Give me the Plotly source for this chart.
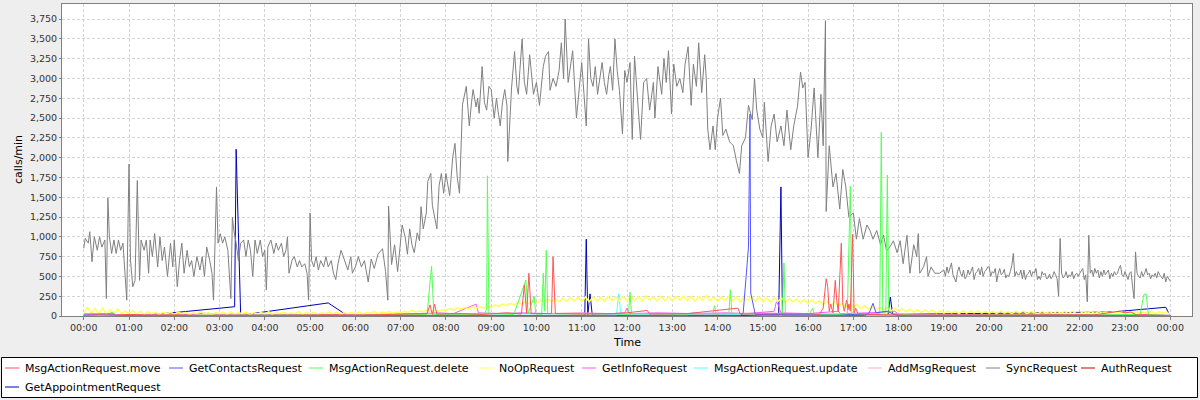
import numpy as np
import pandas as pd
import plotly.graph_objects as go

# ---------------- data (minutes since midnight, calls/min) ----------------
sync_t_day = [
    0, 2, 6, 8, 11, 14, 18, 21, 24, 28,
    30, 32, 34, 37, 40, 43, 46, 49, 52, 54,
    57, 60, 62, 65, 68, 71, 74, 76, 80, 83,
    86, 88, 91, 94, 98, 101, 104, 107, 111, 115,
    118, 120, 124, 127, 130, 133, 137, 140, 143, 146,
    150, 154, 157, 160, 163, 167, 170, 172, 174, 176,
    178, 181, 184, 187, 191, 193, 195, 197, 199, 202,
    205, 208, 212, 215, 218, 221, 224, 227, 230, 234,
    237, 240, 242, 244, 248, 252, 255, 258, 262, 265,
    268, 270, 272, 276, 279, 283, 286, 289, 293, 296,
    298, 300, 302, 305, 308, 311, 314, 318, 321, 324,
    328, 331, 334, 337, 341, 344, 347, 350, 354, 356,
    360, 364, 368, 372, 377, 381, 385, 390, 396, 400,
    403, 404, 408, 412, 416, 420, 422, 426, 429, 432,
    435, 438, 442, 445, 447, 450, 454, 456, 460, 462,
    465, 468, 471, 474, 477, 480, 485, 489, 492, 495,
    498, 500, 502, 507, 511, 514, 516, 520, 522, 524,
    528, 531, 534, 537, 540, 544, 547, 549, 552, 555,
    558, 561, 562, 567, 571, 574, 576, 578, 581, 584,
    587, 591, 594, 596, 600, 604, 609, 612, 616, 618,
    622, 626, 630, 633, 636, 638, 642, 645, 648, 653,
    657, 660, 663, 666, 669, 672, 675, 678, 681, 684,
    687, 690, 693, 696, 698, 701, 704, 707, 710, 714,
    717, 720, 724, 727, 730, 735, 738, 742, 746, 750,
    755, 757, 761, 766, 769, 772, 775, 779, 782, 786,
    790, 794, 797, 801, 805, 808, 812, 815, 819, 823,
    825, 827, 830, 834, 837, 840, 844, 847, 851, 856,
    861, 865, 869, 872, 877, 881, 886, 889, 892, 896,
    900, 902, 907, 911, 915, 919, 924, 928, 932, 937,
    941, 946, 948, 950, 953, 956, 960, 964, 968, 973,
    977, 980, 983, 984, 988, 993, 997, 1002, 1006, 1010,
    1014, 1020, 1024, 1028, 1033, 1038, 1042, 1046, 1051, 1056,
    1060, 1064, 1069, 1073, 1078, 1082, 1086, 1091, 1095, 1100,
    1104, 1106, 1108, 1113, 1117, 1119, 1123, 1128, 1134,
]
sync_v_day = [
    855, 980, 920, 1065, 685, 1000, 830, 1000, 870, 960,
    220, 1490, 1000, 790, 960, 790, 960, 830, 920, 620,
    200, 1920, 700, 370, 450, 1710, 450, 960, 830, 960,
    540, 960, 750, 1040, 620, 1000, 700, 870, 500, 920,
    620, 960, 370, 700, 920, 540, 830, 620, 700, 500,
    750, 580, 750, 500, 870, 700, 540, 200, 790, 1630,
    920, 1040, 920, 1000, 830, 540, 220, 1250, 1080, 920,
    700, 920, 960, 750, 960, 830, 500, 960, 790, 960,
    750, 830, 330, 870, 960, 790, 920, 830, 920, 750,
    830, 1000, 540, 700, 750, 620, 700, 620, 660, 540,
    200, 1300, 700, 620, 750, 580, 700, 620, 750, 620,
    700, 540, 460, 660, 830, 750, 660, 580, 750, 540,
    620, 750, 620, 700, 430, 720, 600, 780, 850, 560,
    200, 1390, 650, 900, 560, 950, 1150, 1000, 780, 1100,
    900, 800, 1050, 950, 1380, 1100, 1300, 1700, 1800, 1400,
    1250, 1100, 1650, 1800, 1550, 1800, 1520, 2000, 2180, 1750,
    1550, 2100, 2670, 2900, 2400, 2700, 2860, 2640, 2750, 2560,
    3150, 2700, 2600, 2900, 2860, 2500, 2750, 2600, 2400, 2700,
    2860, 2650, 1950, 2880, 3340, 2900, 2800, 3100, 3500, 2950,
    2800, 3300, 2950, 2800, 2950, 2660, 3150, 3280, 3340, 2850,
    3000, 2900, 3100, 3450, 3000, 3750, 2950, 3150, 3350, 2500,
    2900, 3200, 2800, 2400, 3500, 3000, 2900, 3150, 2800, 3000,
    3200, 2950, 2800, 3050, 3150, 2850, 3500, 3100, 2850, 2300,
    3100, 2950, 3200, 2230, 3280, 2600, 2230, 2950, 3000, 2600,
    2950, 2500, 3150, 2800, 3250, 2950, 3350, 2550, 3180, 2900,
    3000, 2820, 3180, 3400, 2660, 3180, 2900, 3450, 2820, 3300,
    3000, 2360, 2100, 2400, 2100, 2500, 2750, 2280, 2360, 2200,
    2150, 1960, 1800, 2150, 2250, 2660, 2480, 3000, 2600, 2360,
    2250, 2700, 1950, 2400, 2550, 2200, 2400, 2150, 2600, 2100,
    2400, 2650, 2830, 3080, 2880, 2950, 2000, 2360, 2880, 2000,
    2800, 2150, 3730, 1320, 2150, 1630, 1800, 1350, 1850, 1630,
    1250, 1300, 970, 1230, 970, 1150, 1080, 970, 1080, 900,
    1020, 820, 880, 950, 800, 950, 660, 1020, 540, 900,
    750, 1040, 540, 620, 750, 500, 620, 540, 540,
]
# evening samples, every 2 minutes from 19:00 to 24:00
sync_t_eve = list(range(1140, 1441, 2))
sync_v_eve = [
    580, 500, 620, 540, 600, 670, 520, 480, 430, 560,
    620, 540, 500, 580, 470, 500, 580, 520, 560, 620,
    460, 540, 560, 600, 520, 620, 500, 560, 580, 620,
    620, 500, 560, 540, 600, 430, 540, 600, 520, 540,
    590, 480, 520, 500, 560, 640, 790, 500, 560, 520,
    520, 580, 470, 580, 460, 520, 540, 580, 500, 560,
    540, 600, 460, 500, 460, 560, 520, 540, 470, 480,
    530, 470, 500, 560, 520, 470, 250, 980, 540, 480,
    500, 560, 480, 520, 500, 560, 470, 520, 540, 500,
    540, 580, 600, 460, 520, 180, 1020, 540, 580, 500,
    600, 540, 580, 480, 560, 500, 580, 520, 560, 580,
    470, 540, 500, 560, 520, 540, 600, 640, 520, 500,
    560, 500, 460, 540, 560, 380, 220, 810, 540, 500,
    480, 560, 500, 540, 600, 520, 540, 470, 520, 500,
    540, 480, 560, 520, 500, 470, 540, 430, 500, 460,
    440,
]
sync_t = sync_t_day + sync_t_eve
sync_v = sync_v_day + sync_v_eve

noop_t = list(range(0, 1441, 5))
noop_v = [
    40, 110, 30, 95, 25, 100, 20, 80, 30, 90, 25, 60,
    30, 70, 25, 60, 20, 55, 30, 50, 20, 45, 25, 50,
    20, 50, 25, 45, 20, 40, 30, 55, 25, 40, 20, 45,
    30, 50, 20, 55, 25, 45, 30, 50, 20, 40, 25, 45,
    25, 55, 20, 45, 30, 50, 25, 40, 30, 55, 20, 45,
    25, 45, 20, 40, 30, 50, 25, 45, 20, 40, 30, 45,
    30, 50, 25, 45, 35, 55, 30, 50, 40, 55, 35, 50,
    40, 60, 45, 70, 50, 65, 55, 75, 50, 70, 60, 80,
    70, 95, 75, 100, 85, 110, 90, 120, 95, 115, 100, 125,
    110, 140, 120, 150, 130, 160, 140, 170, 150, 180, 160, 185,
    160, 205, 170, 215, 175, 220, 180, 225, 185, 230, 190, 235,
    185, 240, 180, 245, 190, 235, 185, 250, 195, 240, 190, 245,
    190, 250, 195, 245, 185, 255, 200, 240, 190, 250, 195, 245,
    190, 245, 200, 255, 195, 250, 185, 245, 200, 255, 190, 240,
    185, 240, 195, 250, 190, 245, 180, 235, 195, 245, 185, 240,
    180, 235, 175, 230, 185, 225, 170, 220, 180, 215, 165, 210,
    160, 205, 155, 195, 145, 185, 135, 175, 125, 165, 115, 155,
    105, 145, 95, 130, 85, 120, 80, 110, 75, 105, 65, 95,
    60, 90, 55, 85, 50, 80, 45, 75, 50, 70, 40, 65,
    35, 65, 40, 60, 30, 65, 35, 60, 40, 65, 35, 60,
    35, 60, 30, 65, 35, 55, 30, 60, 40, 65, 30, 55,
    40, 30, 60, 35, 55, 30, 60, 35, 55, 30, 60, 35,
    30, 55, 35, 60, 30, 55, 35, 50, 30, 60, 35, 55,
    30, 55, 35, 60, 30, 50, 35, 60, 30, 55, 35, 50,
    20,
]

move_t = [0, 20, 40, 60, 90, 120, 150, 180, 210, 240, 270, 300, 330, 360, 400, 440,
          455, 459, 462, 465, 468, 500, 530, 560, 580, 584, 587, 590, 593, 620, 622, 625,
          660, 700, 720, 747, 750, 800, 867, 870, 920, 960, 975, 980, 984, 986, 988, 990,
          993, 996, 998, 1000, 1004, 1006, 1008, 1011, 1013, 1014, 1016, 1019, 1021, 1023,
          1026, 1060, 1100, 1160, 1220, 1280, 1340, 1365, 1372, 1380, 1388, 1395, 1440]
move_v = [5, 15, 8, 20, 10, 15, 8, 12, 10, 8, 12, 10, 15, 10, 15, 20,
          30, 140, 20, 150, 25, 30, 20, 40, 25, 390, 30, 540, 30, 30, 750, 30,
          25, 30, 40, 70, 25, 30, 100, 25, 30, 30, 20, 100, 470, 370, 60, 150,
          40, 450, 200, 50, 920, 150, 60, 200, 80, 150, 60, 1030, 40, 100,
          30, 15, 10, 10, 12, 10, 15, 50, 60, 40, 50, 15, 5]

contacts_t = [0, 40, 42, 60, 300, 600, 870, 874, 881, 883, 884, 890, 1035, 1041, 1046,
              1050, 1065, 1074, 1080, 1440]
contacts_v = [25, 25, 5, 3, 3, 3, 3, 40, 870, 2550, 290, 20, 5, 40, 160,
              40, 60, 20, 5, 3]

delete_t = [0, 30, 38, 42, 60, 100, 150, 200, 250, 300, 350, 400, 455, 461, 464, 530,
            534, 535, 537, 570, 586, 589, 597, 599, 607, 609, 611, 613, 615, 660, 700, 722,
            724, 726, 780, 834, 836, 838, 855, 857, 859, 920, 926, 928, 930, 962, 966, 968,
            1000, 1012, 1016, 1018, 1055, 1057, 1059, 1063, 1065, 1067, 1100, 1160, 1220,
            1280, 1340, 1400, 1405, 1408, 1411, 1440]
delete_v = [5, 10, 50, 10, 8, 10, 12, 8, 10, 12, 8, 12, 20, 630, 20, 20,
            80, 1770, 30, 20, 455, 30, 250, 30, 20, 540, 60, 830, 30, 25, 30, 20,
            300, 30, 25, 30, 130, 25, 30, 330, 30, 30, 20, 670, 30, 30, 100, 20,
            20, 30, 1640, 30, 30, 2320, 40, 40, 1780, 40, 10, 10, 15,
            10, 12, 20, 270, 280, 20, 5]

info_t = [0, 30, 60, 90, 120, 140, 160, 180, 210, 240, 270, 300, 330, 360, 400, 440,
          470, 490, 520, 523, 550, 580, 620, 660, 700, 717, 720, 723, 760, 800, 850, 880,
          915, 918, 921, 924, 960, 1000, 1003, 1040, 1075, 1080, 1120, 1180, 1240, 1300,
          1360, 1400, 1440]
info_v = [10, 25, 15, 20, 30, 15, 35, 20, 25, 15, 20, 15, 20, 15, 20, 30,
          40, 30, 150, 40, 30, 40, 30, 35, 30, 40, 100, 30, 40, 30, 40, 30,
          60, 180, 130, 40, 30, 60, 30, 40, 60, 20, 15, 20, 15, 20,
          15, 20, 10]

update_t = [0, 120, 240, 360, 480, 600, 706, 709, 712, 800, 806, 900, 1000, 1100, 1250, 1440]
update_v = [5, 8, 5, 8, 10, 12, 10, 280, 15, 10, 40, 12, 10, 8, 5, 5]

addmsg_t = [0, 120, 240, 360, 480, 540, 600, 660, 720, 780, 840, 900, 960, 1020, 1080, 1200, 1320, 1440]
addmsg_v = [10, 15, 10, 15, 25, 35, 30, 40, 25, 35, 30, 40, 25, 30, 15, 10, 10, 5]

auth_t = [0, 480, 720, 1000, 1440]
auth_v = [2, 5, 5, 8, 2]

appt_t = [0, 90, 200, 202, 208, 216, 324, 347, 360, 664, 666, 668, 671, 674, 921, 924, 926,
          1066, 1069, 1072, 1362, 1434, 1440]
appt_v = [3, 15, 117, 2105, 3, 20, 165, 20, 3, 5, 970, 10, 280, 10, 10, 1630, 10,
          20, 240, 20, 50, 110, 0]

series_names = ["MsgActionRequest.move", "GetContactsRequest", "MsgActionRequest.delete",
                "NoOpRequest", "GetInfoRequest", "MsgActionRequest.update", "AddMsgRequest",
                "SyncRequest", "AuthRequest", "GetAppointmentRequest"]
series_colors = ["#FF5555", "#5555FF", "#55FF55", "#FFFF55", "#FF55FF", "#55FFFF",
                 "#FFAFAF", "#808080", "#C00000", "#0000C0"]
series_data = [(move_t, move_v), (contacts_t, contacts_v), (delete_t, delete_v),
               (noop_t, noop_v), (info_t, info_v), (update_t, update_v),
               (addmsg_t, addmsg_v), (sync_t, sync_v), (auth_t, auth_v), (appt_t, appt_v)]

y_ticks = list(range(0, 3751, 250))

# ---------------- figure ----------------
W, H = 1200, 400
L, R, T, B = 62, 8, 4, 84
PW, PH = W - L - R, H - T - B
base = pd.Timestamp("2011-01-01")


def to_time(mins):
    return base + pd.to_timedelta(np.asarray(mins, dtype=float), unit="m")


def px_x(px):
    return (px - L) / PW


def px_y(py):
    return (H - B - py) / PH


fig = go.Figure()
# JFreeChart renders series in reverse order: first series on top
for name, color, (t, v) in reversed(list(zip(series_names, series_colors, series_data))):
    lw = 1.5 if name == "NoOpRequest" else 1
    fig.add_trace(go.Scatter(x=to_time(t), y=v, mode="lines", name=name,
                             line=dict(color=color, width=lw), showlegend=False,
                             hoverinfo="skip"))

tick_font = dict(family="DejaVu Sans", size=9.5, color="#333333")
fig.update_layout(
    width=W, height=H,
    margin=dict(l=L, r=R, t=T, b=B, pad=0),
    paper_bgcolor="#EEEEEE", plot_bgcolor="#FFFFFF",
    showlegend=False,
    xaxis=dict(
        type="date",
        range=[base - pd.Timedelta(minutes=28.8), base + pd.Timedelta(minutes=1468.8)],
        tickformat="%H:%M", dtick=3600000, tick0=base,
        showgrid=True, gridcolor="#D4D4D4", griddash="3px,2px", gridwidth=1,
        showline=True, linecolor="#808080", linewidth=1, mirror=True,
        ticks="outside", ticklen=3, tickcolor="#808080",
        tickfont=tick_font, zeroline=False,
    ),
    yaxis=dict(
        range=[0, 3940], tickvals=y_ticks, tickformat=",d",
        showgrid=True, gridcolor="#D4D4D4", griddash="3px,2px", gridwidth=1,
        showline=True, linecolor="#808080", linewidth=1, mirror=True,
        ticks="outside", ticklen=2, tickcolor="#808080",
        tickfont=tick_font, zeroline=False,
    ),
)

annotations = [
    dict(text="calls/min", x=px_x(18), y=px_y(160), xref="paper", yref="paper",
         textangle=-90, showarrow=False, font=dict(family="DejaVu Sans", size=11, color="#000"),
         xanchor="center", yanchor="middle"),
    dict(text="Time", x=px_x(627), y=px_y(342), xref="paper", yref="paper",
         showarrow=False, font=dict(family="DejaVu Sans", size=11, color="#000"),
         xanchor="center", yanchor="middle"),
]
shapes = [
    dict(type="rect", xref="paper", yref="paper", x0=px_x(1.5), x1=px_x(1197.5),
         y0=px_y(357.5), y1=px_y(397.5), line=dict(color="#000000", width=1),
         fillcolor="#FFFFFF", layer="below"),
]

# legend entries: (line start px, row)
legend_x = [5, 169, 309, 479, 582, 694, 868, 986, 1081, 5]
legend_row = [0, 0, 0, 0, 0, 0, 0, 0, 0, 1]
row_y = [368, 387]
for name, color, lx, row in zip(series_names, series_colors, legend_x, legend_row):
    yy = px_y(row_y[row])
    shapes.append(dict(type="line", xref="paper", yref="paper", x0=px_x(lx), x1=px_x(lx + 14),
                       y0=yy, y1=yy, line=dict(color=color, width=1)))
    annotations.append(dict(text=name, x=px_x(lx + 18), y=yy, xref="paper", yref="paper",
                            showarrow=False, xanchor="left", yanchor="middle",
                            font=dict(family="DejaVu Sans", size=11, color="#000")))

fig.update_layout(annotations=annotations, shapes=shapes)
fig.write_html("out.html", config={"displayModeBar": False},
               post_script="document.body.style.margin='0';document.body.style.padding='0';")
